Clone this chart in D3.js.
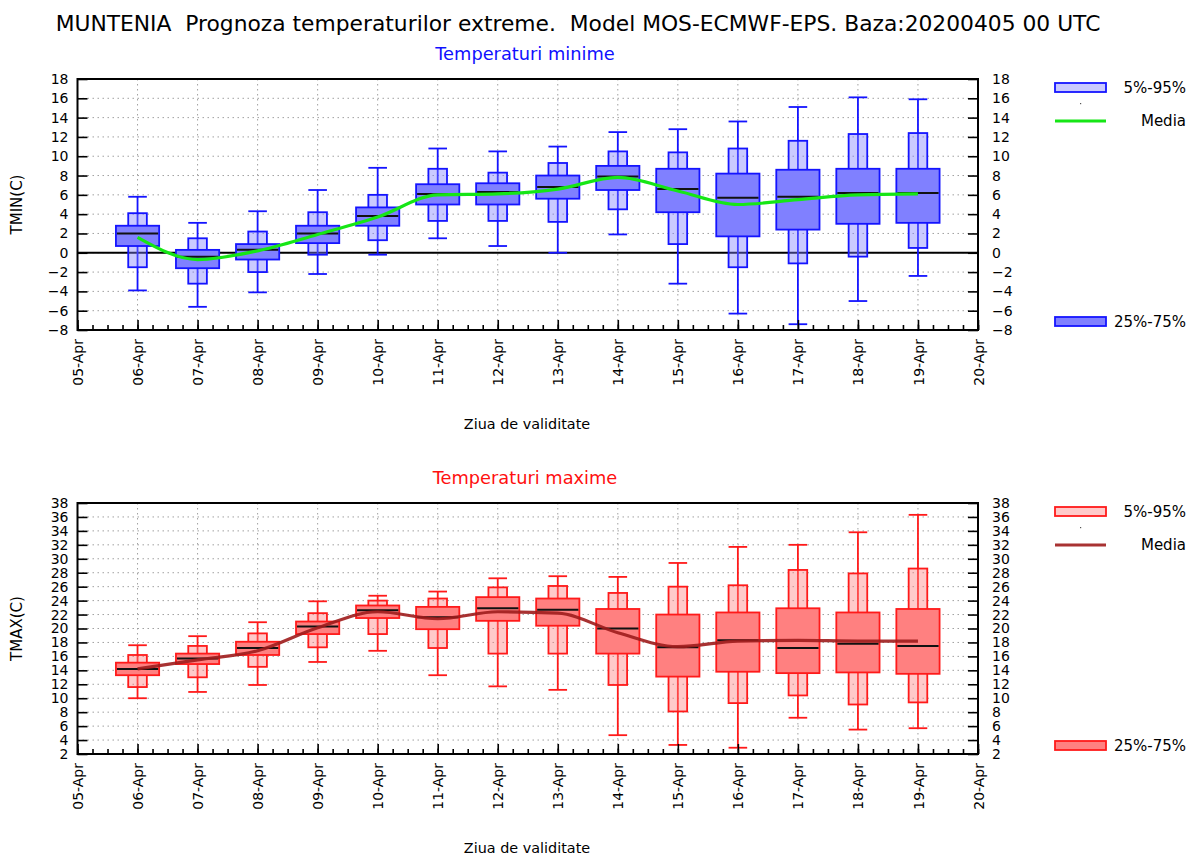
<!DOCTYPE html>
<html>
<head>
<meta charset="utf-8">
<script src="https://cdn.jsdelivr.net/npm/d3@7"></script>
<style>
  body { margin: 0; background: #fff; }
  svg { display: block; font-family: "DejaVu Sans", sans-serif; }
</style>
</head>
<body>
<svg id="chart" width="1190" height="856"></svg>
<script>
// Forecast days (box centres), 06-Apr .. 19-Apr 2020
const days = ["2020-04-06","2020-04-07","2020-04-08","2020-04-09","2020-04-10","2020-04-11","2020-04-12",
              "2020-04-13","2020-04-14","2020-04-15","2020-04-16","2020-04-17","2020-04-18","2020-04-19"];

// Minimum temperatures (C)
const tminLo   = [-3.9, -5.6, -4.1, -2.2, -0.2, 1.5, 0.7, 0.0, 1.9, -3.2, -6.3, -7.4, -5.0, -2.4];
const tminP05  = [-1.5, -3.2, -2.0, -0.2, 1.3, 3.3, 3.3, 3.2, 4.5, 0.9, -1.5, -1.1, -0.4, 0.5];
const tminP25  = [0.7, -1.6, -0.7, 1.0, 2.8, 5.0, 5.0, 5.6, 6.5, 4.2, 1.7, 2.4, 3.0, 3.1];
const tminMed  = [2.0, -0.4, 0.3, 2.0, 3.8, 6.1, 6.3, 6.8, 7.9, 6.6, 5.7, 5.8, 6.2, 6.2];
const tminP75  = [2.8, 0.3, 0.9, 2.8, 4.7, 7.1, 7.2, 8.0, 9.0, 8.7, 8.2, 8.6, 8.7, 8.7];
const tminP95  = [4.1, 1.5, 2.2, 4.2, 6.0, 8.7, 8.3, 9.3, 10.5, 10.4, 10.8, 11.6, 12.3, 12.4];
const tminHi   = [5.8, 3.1, 4.3, 6.5, 8.8, 10.8, 10.5, 11.0, 12.5, 12.8, 13.6, 15.1, 16.1, 15.9];
const tminMean = [1.6, -0.7, 0.2, 1.9, 3.7, 6.0, 6.1, 6.6, 7.8, 6.4, 5.0, 5.5, 6.0, 6.1];

// Maximum temperatures (C)
const tmaxLo   = [10.0, 10.9, 11.9, 15.2, 16.8, 13.3, 11.7, 11.2, 4.7, 3.3, 2.9, 7.2, 5.5, 5.7];
const tmaxP05  = [11.6, 13.0, 14.5, 17.3, 19.2, 17.2, 16.4, 16.4, 11.9, 8.1, 9.3, 10.4, 9.1, 9.4];
const tmaxP25  = [13.3, 14.9, 16.2, 19.2, 21.5, 19.9, 21.1, 20.4, 16.4, 13.1, 13.8, 13.6, 13.7, 13.5];
const tmaxMed  = [14.2, 15.7, 17.2, 20.3, 22.6, 21.6, 22.9, 22.7, 20.0, 17.3, 18.3, 17.2, 17.8, 17.5];
const tmaxP75  = [15.1, 16.4, 18.1, 21.0, 23.3, 23.1, 24.5, 24.3, 22.8, 22.0, 22.3, 22.9, 22.3, 22.8];
const tmaxP95  = [16.2, 17.5, 19.3, 22.2, 24.0, 24.3, 25.9, 26.1, 25.1, 26.0, 26.2, 28.4, 27.9, 28.6];
const tmaxHi   = [17.6, 18.9, 20.9, 23.9, 24.7, 25.3, 27.2, 27.5, 27.4, 29.4, 31.7, 32.0, 33.8, 36.3];
const tmaxMean = [14.2, 15.5, 16.8, 20.1, 22.4, 21.4, 22.4, 22.2, 19.4, 17.4, 18.2, 18.3, 18.2, 18.2];

// Axis ranges and legend labels
const xStart = "2020-04-05", xEnd = "2020-04-20";
const tminTicks = d3.range(-8, 19, 2);
const tmaxTicks = d3.range(2, 39, 2);
const legendLabels = ["5%-95%", "Media", "25%-75%"];

const svg = d3.select("#chart");
const parse = d3.utcParse("%Y-%m-%d");
const fmt = d3.utcFormat("%d-%b");

// main title (double spaces kept)
svg.append("text")
  .attr("x", 578).attr("y", 31)
  .attr("text-anchor", "middle")
  .attr("font-size", 21.8)
  .style("white-space", "pre")
  .text("MUNTENIA  Prognoza temperaturilor extreme.  Model MOS-ECMWF-EPS. Baza:20200405 00 UTC");

// draws one panel (box plots + mean line + axes + legend)
function drawPanel(cfg) {
  const left = 77.5, right = 978;
  const x = d3.scaleUtc().domain([parse(xStart), parse(xEnd)]).range([left, right]);
  const y = d3.scaleLinear().domain(cfg.domain).range([cfg.bottom, cfg.top]);
  const g = svg.append("g");

  const rows = days.map((d, i) => ({
    t: parse(d), lo: cfg.lo[i], p05: cfg.p05[i], p25: cfg.p25[i], med: cfg.med[i],
    p75: cfg.p75[i], p95: cfg.p95[i], hi: cfg.hi[i], mean: cfg.mean[i]
  }));
  const dayW = x(parse(days[1])) - x(parse(days[0]));
  const outerW = dayW * 0.31, innerW = dayW * 0.72;

  // subtitle
  g.append("text")
    .attr("x", 525).attr("y", cfg.top - 19)
    .attr("text-anchor", "middle")
    .attr("font-size", 17.8)
    .attr("fill", cfg.titleColor)
    .text(cfg.title);

  // grid
  const grid = g.append("g").attr("stroke", "#a0a0a0").attr("stroke-width", 1).attr("stroke-dasharray", "1.5,3.5");
  grid.selectAll(".gy").data(cfg.ticks.slice(1, -1)).join("line")
    .attr("x1", left).attr("x2", right)
    .attr("y1", d => y(d)).attr("y2", d => y(d));
  grid.selectAll(".gx").data(x.ticks(d3.utcDay.every(1)).slice(1, -1)).join("line")
    .attr("y1", cfg.top).attr("y2", cfg.bottom)
    .attr("x1", d => x(d)).attr("x2", d => x(d));

  if (cfg.zeroLine) {
    g.append("line")
      .attr("x1", left).attr("x2", right)
      .attr("y1", y(0)).attr("y2", y(0))
      .attr("stroke", "#000").attr("stroke-width", 2);
  }

  // whiskers
  const boxes = g.append("g");
  boxes.selectAll(".wh").data(rows).join("line")
    .attr("x1", d => x(d.t)).attr("x2", d => x(d.t))
    .attr("y1", d => y(d.lo)).attr("y2", d => y(d.hi))
    .attr("stroke", cfg.stroke).attr("stroke-width", 1.8);
  ["lo", "hi"].forEach(k => {
    boxes.selectAll(".cap" + k).data(rows).join("line")
      .attr("x1", d => x(d.t) - outerW / 2).attr("x2", d => x(d.t) + outerW / 2)
      .attr("y1", d => y(d[k])).attr("y2", d => y(d[k]))
      .attr("stroke", cfg.stroke).attr("stroke-width", 1.8);
  });

  // 5%-95% boxes (semi transparent so the grid shows through)
  boxes.selectAll(".outer").data(rows).join("rect")
    .attr("x", d => x(d.t) - outerW / 2).attr("width", outerW)
    .attr("y", d => y(d.p95)).attr("height", d => y(d.p05) - y(d.p95))
    .attr("fill", cfg.fill).attr("fill-opacity", 0.42)
    .attr("stroke", cfg.stroke).attr("stroke-width", 1.8);

  // 25%-75% boxes
  boxes.selectAll(".inner").data(rows).join("rect")
    .attr("x", d => x(d.t) - innerW / 2).attr("width", innerW)
    .attr("y", d => y(d.p75)).attr("height", d => y(d.p25) - y(d.p75))
    .attr("fill", cfg.fill)
    .attr("stroke", cfg.stroke).attr("stroke-width", 1.8);

  // median
  boxes.selectAll(".med").data(rows).join("line")
    .attr("x1", d => x(d.t) - innerW / 2 + 1).attr("x2", d => x(d.t) + innerW / 2 - 1)
    .attr("y1", d => y(d.med)).attr("y2", d => y(d.med))
    .attr("stroke", "#111").attr("stroke-width", 2);

  // mean line
  const line = d3.line().x(d => x(d.t)).y(d => y(d.mean)).curve(d3.curveMonotoneX);
  g.append("path").datum(rows)
    .attr("d", line)
    .attr("fill", "none")
    .attr("stroke", cfg.meanColor).attr("stroke-width", 3.2)
    .attr("stroke-opacity", cfg.meanOpacity);

  // axes
  const yl = g.append("g").attr("transform", `translate(${left},0)`)
    .call(d3.axisLeft(y).tickValues(cfg.ticks).tickSize(-10).tickPadding(9));
  const yr = g.append("g").attr("transform", `translate(${right},0)`)
    .call(d3.axisRight(y).tickValues(cfg.ticks).tickSize(-10).tickPadding(14));
  const xMinor = g.append("g").attr("transform", `translate(0,${cfg.bottom})`)
    .call(d3.axisBottom(x).ticks(d3.utcHour.every(6)).tickSize(-5).tickFormat(""));
  const xMajor = g.append("g").attr("transform", `translate(0,${cfg.bottom})`)
    .call(d3.axisBottom(x).ticks(d3.utcDay.every(1)).tickSize(-10).tickFormat(fmt));
  xMajor.selectAll("text")
    .attr("transform", "rotate(-90)")
    .attr("text-anchor", "end")
    .attr("x", -9).attr("y", 0).attr("dy", "0.36em");
  [yl, yr, xMinor, xMajor].forEach(a => {
    a.select(".domain").remove();
    a.selectAll("line").attr("stroke", "#000").attr("stroke-width", 1.6);
    a.selectAll("text").attr("font-family", "DejaVu Sans").attr("font-size", 14).attr("fill", "#000");
  });

  // frame
  g.append("rect")
    .attr("x", left).attr("y", cfg.top)
    .attr("width", right - left).attr("height", cfg.bottom - cfg.top)
    .attr("fill", "none").attr("stroke", "#000").attr("stroke-width", 2);

  // axis titles
  g.append("text")
    .attr("transform", `translate(22,${(cfg.top + cfg.bottom) / 2}) rotate(-90)`)
    .attr("text-anchor", "middle")
    .attr("font-size", 15)
    .text(cfg.yLabel);
  g.append("text")
    .attr("x", 527).attr("y", cfg.bottom + 99)
    .attr("text-anchor", "middle")
    .attr("font-size", 14.4)
    .text("Ziua de validitate");

  // legend
  const lg = g.append("g").attr("font-size", 15);
  lg.append("rect")
    .attr("x", 1055).attr("y", cfg.top + 4).attr("width", 51).attr("height", 9)
    .attr("fill", cfg.fill).attr("fill-opacity", 0.42)
    .attr("stroke", cfg.stroke).attr("stroke-width", 1.8);
  lg.append("text").attr("x", 1186).attr("y", cfg.top + 9).attr("dy", "0.35em")
    .attr("text-anchor", "end").text(legendLabels[0]);
  lg.append("rect")
    .attr("x", 1080).attr("y", cfg.top + 24).attr("width", 1.2).attr("height", 1.2)
    .attr("fill", "#555");
  lg.append("line")
    .attr("x1", 1055).attr("x2", 1106).attr("y1", cfg.top + 42).attr("y2", cfg.top + 42)
    .attr("stroke", cfg.meanColor).attr("stroke-width", 3.2).attr("stroke-opacity", cfg.meanOpacity);
  lg.append("text").attr("x", 1186).attr("y", cfg.top + 42).attr("dy", "0.35em")
    .attr("text-anchor", "end").text(legendLabels[1]);
  lg.append("rect")
    .attr("x", 1055).attr("y", cfg.bottom - 13).attr("width", 51).attr("height", 9)
    .attr("fill", cfg.fill)
    .attr("stroke", cfg.stroke).attr("stroke-width", 1.8);
  lg.append("text").attr("x", 1186).attr("y", cfg.bottom - 8).attr("dy", "0.35em")
    .attr("text-anchor", "end").text(legendLabels[2]);
}

drawPanel({
  top: 79, bottom: 330, domain: [-8, 18], ticks: tminTicks,
  lo: tminLo, p05: tminP05, p25: tminP25, med: tminMed, p75: tminP75, p95: tminP95, hi: tminHi, mean: tminMean,
  title: "Temperaturi minime", titleColor: "#1010ff", yLabel: "TMIN(C)",
  stroke: "#1414ff", fill: "#8080ff", meanColor: "#16e616", meanOpacity: 1, zeroLine: true
});

drawPanel({
  top: 503, bottom: 754, domain: [2, 38], ticks: tmaxTicks,
  lo: tmaxLo, p05: tmaxP05, p25: tmaxP25, med: tmaxMed, p75: tmaxP75, p95: tmaxP95, hi: tmaxHi, mean: tmaxMean,
  title: "Temperaturi maxime", titleColor: "#ff1010", yLabel: "TMAX(C)",
  stroke: "#ff1a1a", fill: "#ff8080", meanColor: "#9e1c1c", meanOpacity: 0.9, zeroLine: false
});
</script>
</body>
</html>
